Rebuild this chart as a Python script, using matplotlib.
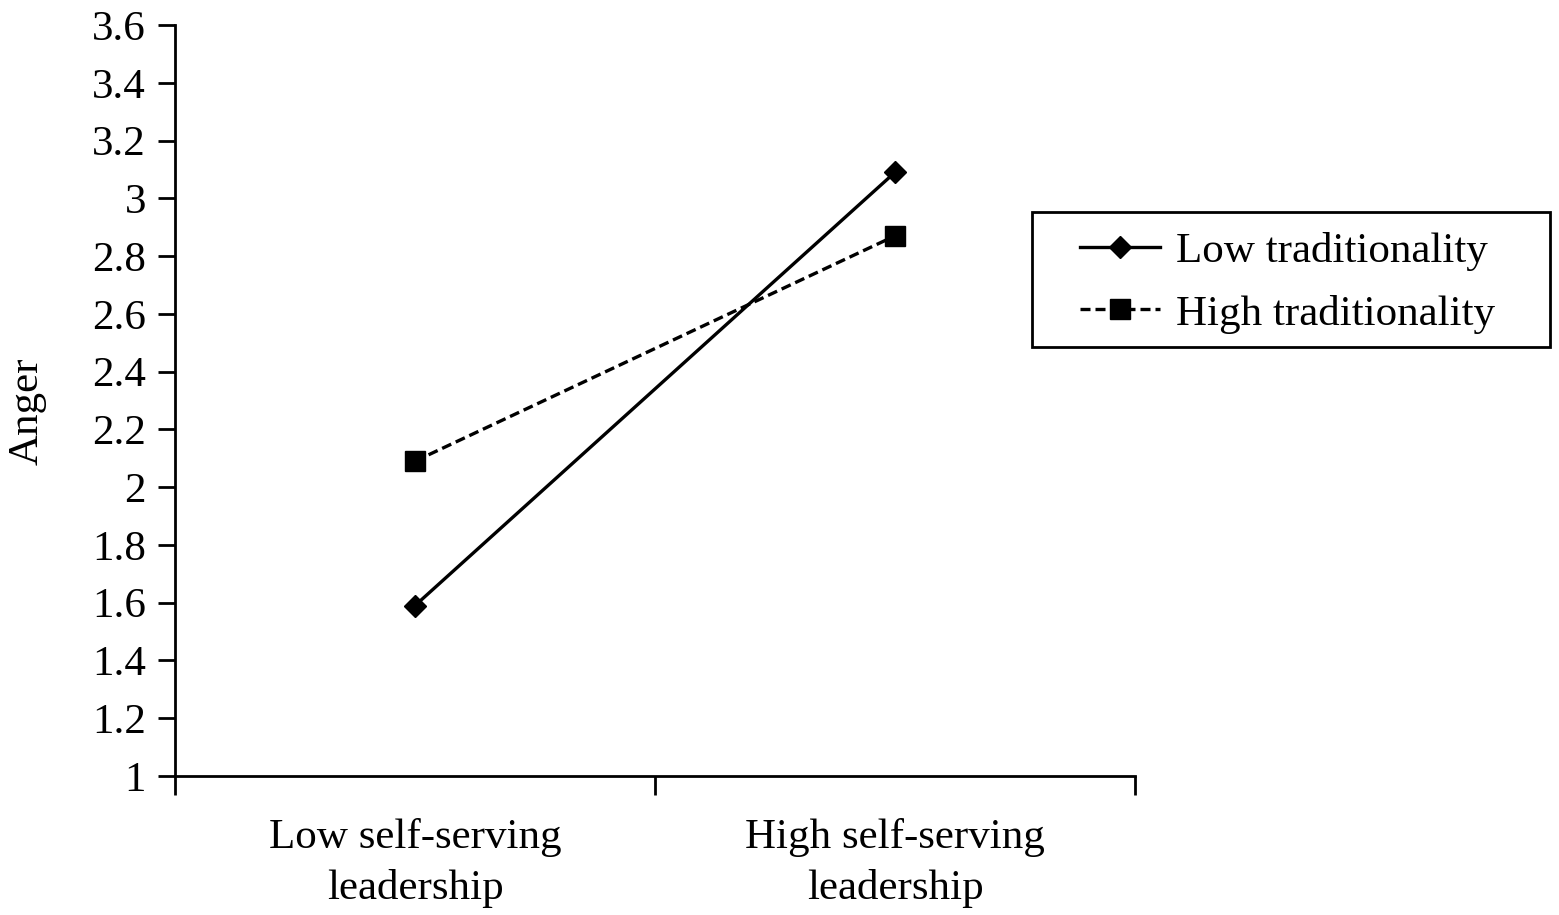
import numpy as np
import matplotlib.pyplot as plt
from matplotlib.patches import Rectangle

plt.rcParams['font.family'] = ['Liberation Serif', 'DejaVu Serif']

# 数据
categories = ['Low self-serving\nleadership', 'High self-serving\nleadership']
low_trad = [1.59, 3.09]
high_trad = [2.09, 2.87]
y_ticks = [1, 1.2, 1.4, 1.6, 1.8, 2, 2.2, 2.4, 2.6, 2.8, 3, 3.2, 3.4, 3.6]
y_labels = ['1', '1.2', '1.4', '1.6', '1.8', '2', '2.2', '2.4', '2.6', '2.8', '3', '3.2', '3.4', '3.6']

W, H = 1559, 915
fig = plt.figure(figsize=(W / 100, H / 100), dpi=100)
ax = fig.add_axes([175 / W, 1 - 776 / H, 960 / W, 751 / H])

x = np.arange(len(categories)) + 0.5
ax.plot(x, low_trad, color='black', linestyle='-', linewidth=2.4,
        marker='D', markersize=11, label='Low traditionality')
ax.plot(x, high_trad, color='black', linestyle=(0, (3, 1.5)), linewidth=2.4,
        marker='s', markersize=15, label='High traditionality')

ax.set_xlim(0, 2)
ax.set_ylim(1, 3.6)
ax.set_yticks(y_ticks)
ax.set_yticklabels(y_labels, fontsize=31)
ax.set_xticks([0, 1, 2])
ax.set_xticklabels([])
ax.set_xticks(x, minor=True)
ax.set_xticklabels(categories, minor=True, fontsize=31, linespacing=1.4)
ax.tick_params(axis='x', which='minor', length=0, pad=30)
ax.tick_params(axis='x', which='major', length=14, width=2, direction='out')
ax.tick_params(axis='y', length=12, width=2, direction='out', pad=9)

for s in ['top', 'right']:
    ax.spines[s].set_visible(False)
for s in ['left', 'bottom']:
    ax.spines[s].set_linewidth(2)

ax.set_ylabel('Anger', fontsize=31)
ax.yaxis.set_label_coords(-0.134, 0.486)

# 图例（框单独画）
leg = ax.legend(loc='upper left', bbox_to_anchor=(1080 / W, 1 - 232 / H),
                bbox_transform=fig.transFigure, fontsize=31, frameon=False,
                handlelength=1.86, borderpad=0, borderaxespad=0,
                labelspacing=0.54, handletextpad=0.37, markerscale=1.0)
fig.add_artist(Rectangle((1032 / W, 1 - 347 / H), 518 / W, 135 / H,
                         transform=fig.transFigure, fill=False,
                         edgecolor='black', linewidth=2))

fig.savefig('out.png', dpi=100)
